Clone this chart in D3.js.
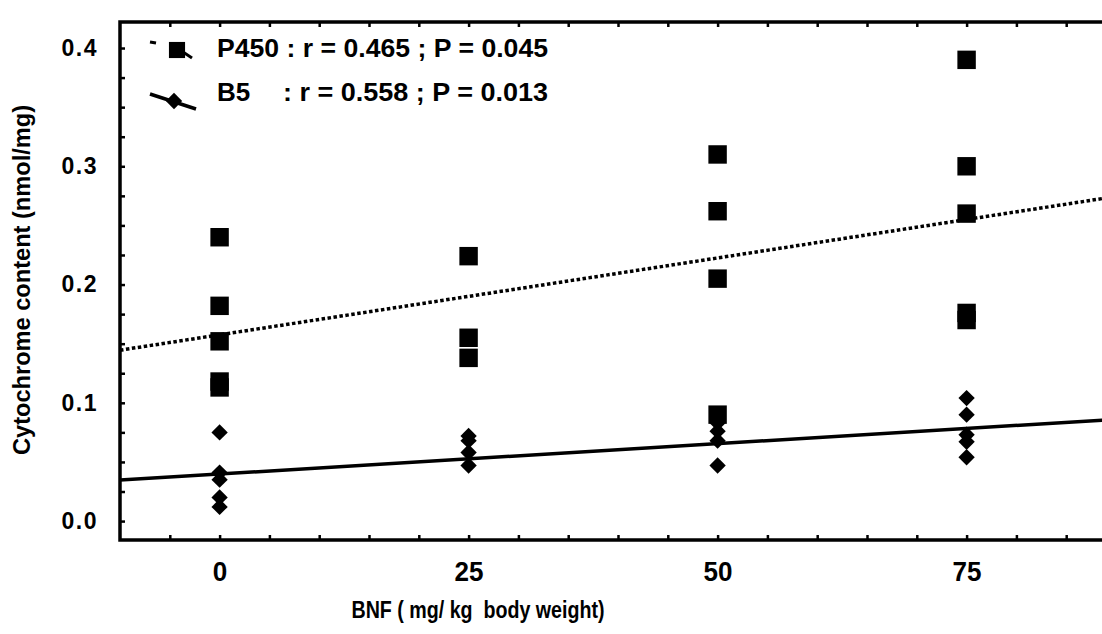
<!DOCTYPE html>
<html>
<head>
<meta charset="utf-8">
<script src="https://cdn.jsdelivr.net/npm/d3@7"></script>
<style>
  html, body { margin: 0; padding: 0; background: #fff; }
  svg { display: block; }
  text { font-family: "Liberation Sans", Arial, Helvetica, sans-serif; font-weight: bold; fill: #000; white-space: pre; }
</style>
</head>
<body>
<svg id="chart" width="1102" height="634"></svg>
<script>
// ---- data ----
const doses = [0, 25, 50, 75];
const p450Dose  = [0, 0, 0, 0, 0, 25, 25, 25, 50, 50, 50, 50, 75, 75, 75, 75, 75];
const p450Value = [0.240, 0.182, 0.152, 0.118, 0.113, 0.224, 0.155, 0.138, 0.310, 0.262, 0.205, 0.090, 0.390, 0.300, 0.260, 0.176, 0.170];
const b5Dose  = [0, 0, 0, 0, 0, 25, 25, 25, 25, 50, 50, 50, 50, 75, 75, 75, 75, 75];
const b5Value = [0.075, 0.041, 0.035, 0.020, 0.012, 0.072, 0.068, 0.058, 0.047, 0.083, 0.076, 0.068, 0.047, 0.104, 0.090, 0.073, 0.067, 0.054];
// regression lines: [intercept, slope]
const p450Fit = [0.1575, 0.0013];
const b5Fit   = [0.0398, 0.000514];
const yTicks = [0.0, 0.1, 0.2, 0.3, 0.4];
const xTicks = [0, 25, 50, 75];
const legendLabels = ["P450", "B5"];
const legendStats = [": r = 0.465 ; P = 0.045", ": r = 0.558 ; P = 0.013"];
const xTitle = "BNF ( mg/ kg  body weight)";
const yTitle = "Cytochrome content (nmol/mg)";

(function () {
const svg = d3.select("#chart");
const pL = 120, pT = 22, pB = 540, pR = 1116;
const x = d3.scaleLinear().domain([-10, 90]).range([pL, pR]);
const y = d3.scaleLinear().domain([-0.016, 0.422]).range([pB, pT]);

svg.append("rect").attr("width", 1102).attr("height", 634).attr("fill", "#fff");

svg.append("defs").append("clipPath").attr("id", "plotclip")
  .append("rect").attr("x", pL).attr("y", pT).attr("width", pR - pL).attr("height", pB - pT);

const xMinor = d3.range(-5, 91, 5);
const yMinor = d3.range(0, 0.4201, 0.025);

svg.append("g").attr("transform", `translate(0,${pB})`)
  .call(d3.axisTop(x).tickValues(xMinor).tickSize(5).tickFormat(""))
  .call(g => g.select(".domain").remove())
  .selectAll("line").attr("stroke-width", 2.5);
svg.append("g").attr("transform", `translate(0,${pT})`)
  .call(d3.axisBottom(x).tickValues(xMinor).tickSize(5).tickFormat(""))
  .call(g => g.select(".domain").remove())
  .selectAll("line").attr("stroke-width", 2.5);
svg.append("g").attr("transform", `translate(${pL},0)`)
  .call(d3.axisRight(y).tickValues(yMinor).tickSize(5).tickFormat(""))
  .call(g => g.select(".domain").remove())
  .selectAll("line").attr("stroke-width", 2.5);

const yAxisG = svg.append("g").attr("transform", `translate(${pL},0)`)
  .call(d3.axisLeft(y).tickValues(yTicks).tickSize(0).tickPadding(22).tickFormat(d3.format(".1f")));
yAxisG.select(".domain").remove();
yAxisG.selectAll("text").attr("font-size", 23).attr("font-family", "Liberation Sans, Arial, sans-serif")
  .attr("font-weight", "bold").attr("letter-spacing", "1.5px");

const xAxisG = svg.append("g").attr("transform", `translate(0,${pB})`)
  .call(d3.axisBottom(x).tickValues(xTicks).tickSize(0).tickPadding(22).tickFormat(d3.format("d")));
xAxisG.select(".domain").remove();
xAxisG.selectAll("text").attr("font-size", 27).attr("font-family", "Liberation Sans, Arial, sans-serif")
  .attr("font-weight", "bold")
  .attr("textLength", d => String(d).length * 14.5).attr("lengthAdjust", "spacingAndGlyphs");

svg.append("rect").attr("x", pL).attr("y", pT).attr("width", pR - pL).attr("height", pB - pT)
  .attr("fill", "none").attr("stroke", "#000").attr("stroke-width", 3.5);

const plot = svg.append("g").attr("clip-path", "url(#plotclip)");

const xd = x.domain();
function fitLine(fit) { return xd.map(d => [x(d), y(fit[0] + fit[1] * d)]); }
plot.append("path").attr("d", d3.line()(fitLine(p450Fit)))
  .attr("fill", "none").attr("stroke", "#000").attr("stroke-width", 3.5).attr("stroke-dasharray", "3.5,2.5");
plot.append("path").attr("d", d3.line()(fitLine(b5Fit)))
  .attr("fill", "none").attr("stroke", "#000").attr("stroke-width", 3.5);

const sq = d3.symbol().type(d3.symbolSquare).size(340);
const dm = d3.symbol().type(d3.symbolDiamond2).size(170);
plot.selectAll("path.p450").data(p450Value).join("path").attr("class", "p450")
  .attr("d", sq).attr("transform", (d, i) => `translate(${x(p450Dose[i])},${y(d)})`).attr("fill", "#000");
plot.selectAll("path.b5").data(b5Value).join("path").attr("class", "b5")
  .attr("d", dm).attr("transform", (d, i) => `translate(${x(b5Dose[i])},${y(d)})`).attr("fill", "#000");

const lg = svg.append("g");
lg.append("line").attr("x1", 150).attr("y1", 42).attr("x2", 156).attr("y2", 43).attr("stroke", "#000").attr("stroke-width", 3);
lg.append("path").attr("d", d3.symbol().type(d3.symbolSquare).size(260)).attr("transform", "translate(177,50)").attr("fill", "#000");
lg.append("line").attr("x1", 183).attr("y1", 52).attr("x2", 192).attr("y2", 58).attr("stroke", "#000").attr("stroke-width", 3);
lg.append("line").attr("x1", 150).attr("y1", 94).attr("x2", 196).attr("y2", 109).attr("stroke", "#000").attr("stroke-width", 3.5);
lg.append("path").attr("d", dm).attr("transform", "translate(174,101)").attr("fill", "#000");

lg.append("text").attr("x", 217).attr("y", 48).attr("dy", "0.35em").attr("font-size", 26)
  .attr("textLength", 331).attr("lengthAdjust", "spacingAndGlyphs").text(legendLabels[0] + " " + legendStats[0]);
lg.append("text").attr("x", 217).attr("y", 92).attr("dy", "0.35em").attr("font-size", 26).text(legendLabels[1]);
lg.append("text").attr("x", 283).attr("y", 92).attr("dy", "0.35em").attr("font-size", 26)
  .attr("textLength", 265).attr("lengthAdjust", "spacingAndGlyphs").text(legendStats[1]);

svg.append("text").attr("x", 478).attr("y", 618).attr("text-anchor", "middle").attr("font-size", 24)
  .attr("textLength", 253).attr("lengthAdjust", "spacingAndGlyphs").text(xTitle);
svg.append("text").attr("transform", "translate(30,280) rotate(-90)").attr("text-anchor", "middle")
  .attr("font-size", 24).attr("textLength", 350).attr("lengthAdjust", "spacingAndGlyphs").text(yTitle);
})();
</script>
</body>
</html>
